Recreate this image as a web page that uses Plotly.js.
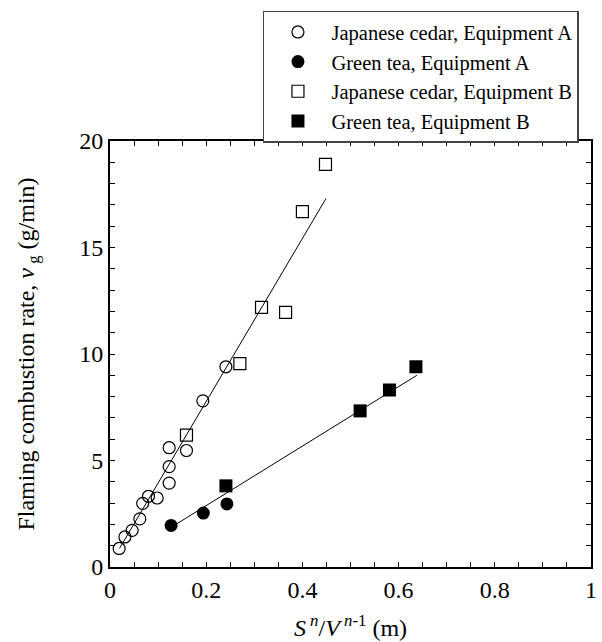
<!DOCTYPE html>
<html>
<head>
<meta charset="utf-8">
<script src="https://cdn.plot.ly/plotly-3.0.1.min.js"></script>
<style>html,body{margin:0;padding:0;background:#fff;}#chart{width:602px;height:642px;}</style>
</head>
<body>
<div id="chart"></div>
<script>
// Japanese cedar, Equipment A (open circles)
const cedarAx = [0.019, 0.031, 0.046, 0.062, 0.068, 0.080, 0.098, 0.123, 0.123, 0.123, 0.159, 0.193, 0.241];
const cedarAy = [0.87, 1.41, 1.72, 2.26, 2.99, 3.32, 3.24, 3.94, 4.71, 5.60, 5.47, 7.80, 9.40];
// Green tea, Equipment A (filled circles)
const teaAx = [0.127, 0.194, 0.243];
const teaAy = [1.95, 2.53, 2.96];
// Japanese cedar, Equipment B (open squares)
const cedarBx = [0.159, 0.270, 0.315, 0.365, 0.400, 0.448];
const cedarBy = [6.19, 9.55, 12.19, 11.95, 16.68, 18.90];
// Green tea, Equipment B (filled squares)
const teaBx = [0.241, 0.520, 0.581, 0.636];
const teaBy = [3.81, 7.33, 8.31, 9.40];
// Fitted lines (end points)
const fitCedarX = [0.02, 0.449];
const fitCedarY = [0.88, 17.3];
const fitTeaX = [0.139, 0.638];
const fitTeaY = [2.03, 9.0];
const names = ["Japanese cedar, Equipment A", "Green tea, Equipment A", "Japanese cedar, Equipment B", "Green tea, Equipment B"];

const font = "Liberation Serif, Times New Roman, serif";
const lineStyle = {color: "#000", width: 1};
const traces = [
  {x: fitCedarX, y: fitCedarY, mode: "lines", line: lineStyle, showlegend: false, hoverinfo: "skip"},
  {x: fitTeaX, y: fitTeaY, mode: "lines", line: lineStyle, showlegend: false, hoverinfo: "skip"},
  {x: cedarAx, y: cedarAy, name: names[0], mode: "markers", type: "scatter",
   marker: {symbol: "circle-open", size: 12, color: "#000", line: {width: 1.2}}},
  {x: teaAx, y: teaAy, name: names[1], mode: "markers", type: "scatter",
   marker: {symbol: "circle", size: 13, color: "#000"}},
  {x: cedarBx, y: cedarBy, name: names[2], mode: "markers", type: "scatter",
   marker: {symbol: "square-open", size: 12, color: "#000", line: {width: 1.2}}},
  {x: teaBx, y: teaBy, name: names[3], mode: "markers", type: "scatter",
   marker: {symbol: "square", size: 13, color: "#000"}}
];

const axisCommon = {
  showgrid: false, zeroline: false, showline: true, linecolor: "#000", linewidth: 2,
  ticks: "inside", ticklen: 5, tickwidth: 1, tickcolor: "#000", mirror: "allticks",
  tickfont: {family: font, size: 24, color: "#000"}
};
const layout = {
  width: 602, height: 642,
  margin: {l: 110, r: 11, t: 137, b: 75},
  paper_bgcolor: "#fff", plot_bgcolor: "#fff",
  font: {family: font, color: "#000"},
  xaxis: Object.assign({}, axisCommon, {
    range: [0, 1], dtick: 0.2, tick0: 0,
    minor: {dtick: 0.05, ticks: "inside", ticklen: 5, tickcolor: "#000", showgrid: false},
    title: {text: "<i>S</i><sup> <i>n</i></sup>/<i>V</i><sup> <i>n</i>-1</sup> (m)", font: {family: font, size: 24}, standoff: 17}
  }),
  yaxis: Object.assign({}, axisCommon, {
    range: [0, 20], dtick: 5, tick0: 0,
    minor: {dtick: 1, ticks: "inside", ticklen: 5, tickcolor: "#000", showgrid: false},
    title: {text: "Flaming combustion rate, <i>ν</i><sub> g</sub> (g/min)", font: {family: font, size: 24}, standoff: 38}
  }),
  legend: {
    x: 0.318, y: 1.306, xanchor: "left", yanchor: "top",
    bordercolor: "#444", borderwidth: 1.5, bgcolor: "#fff",
    font: {family: font, size: 20.5, color: "#000"},
    itemwidth: 57, tracegroupgap: 0
  },
  showlegend: true
};
Plotly.newPlot("chart", traces, layout, {staticPlot: true});
</script>
</body>
</html>
